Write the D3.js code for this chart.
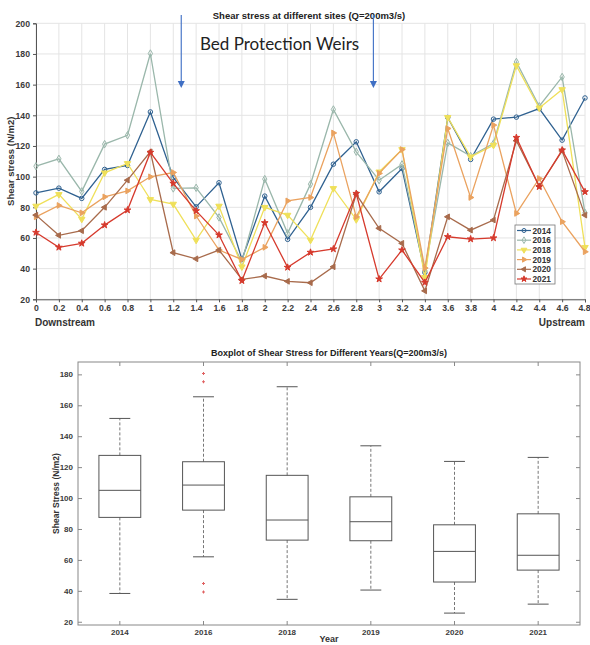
<!DOCTYPE html>
<html>
<head>
<meta charset="utf-8">
<script src="https://cdn.jsdelivr.net/npm/d3@7"></script>
<style>
  body { margin: 0; background: #fff; }
  svg { display: block; font-family: "Liberation Sans", Arial, sans-serif; }
  .tick-lbl { font-size: 8.7px; font-weight: bold; fill: #3a3a3a; }
  .tick-lbl-b { font-size: 8px; font-weight: bold; fill: #3a3a3a; }
</style>
</head>
<body>
<div id="plot"></div>
<script>
// ---- data ----
const sites = [0, 0.2, 0.4, 0.6, 0.8, 1, 1.2, 1.4, 1.6, 1.8, 2, 2.2, 2.4, 2.6, 2.8, 3, 3.2, 3.4, 3.6, 3.8, 4, 4.2, 4.4, 4.6, 4.8];
const years = ['2014', '2016', '2018', '2019', '2020', '2021'];

const s2014 = [89.4, 92.5, 85.8, 104.7, 107.3, 142.2, 99.5, 80.3, 96, 46, 87.3, 59.1, 80, 108.1, 122.7, 90.1, 105.3, 37.5, 138.6, 111.2, 137.5, 138.8, 144.4, 123.8, 151.3];
const s2016 = [106.8, 111.6, 90.4, 121.2, 127, 180.3, 92.3, 92.7, 73.4, 44.5, 98.4, 63, 95.1, 143.8, 116.2, 97.7, 108, 38.8, 122, 113.4, 121.6, 174.8, 145.9, 165, 76.4];
const s2018 = [80.8, 88.4, 72.3, 102.5, 108.6, 85.1, 82.1, 58.6, 80.8, 41.2, 80, 74.9, 58.6, 92.3, 72, 103.1, 117.7, 34.3, 138.6, 112.9, 120.5, 172.4, 144.8, 156.8, 53.9];
const s2019 = [73.8, 81.2, 76.4, 86.8, 90.7, 99.9, 102.7, 74.3, 52.1, 46, 53.9, 84.2, 86.4, 128.5, 73.8, 102.1, 117.7, 40.4, 131.4, 86.4, 133.6, 76, 98.8, 70.6, 51];
const s2020 = [74.9, 61.7, 64.7, 80, 97.7, 116.2, 50.4, 46.4, 52.1, 33, 35.2, 31.7, 30.8, 41.2, 88.5, 66.3, 56.5, 25.5, 73.8, 65.1, 71.7, 123.4, 93.8, 116.8, 74.9];
const s2021 = [63.6, 53.9, 56.5, 68.4, 78.2, 115.8, 95.6, 77.7, 61.9, 32.1, 69.9, 40.8, 50.6, 52.8, 89, 33.2, 52.1, 31, 60.8, 59.3, 60, 125.5, 93.4, 117.3, 90.1];

const xTicks = sites;
const yTicks = [20, 40, 60, 80, 100, 120, 140, 160, 180, 200];

// boxplot stats per year
const whiskerLow = [38.3, 62, 34.5, 40.5, 25.6, 31.4];
const q1 = [87.5, 92.2, 72.8, 72.4, 45.7, 53.4];
const median = [105, 108.4, 85.8, 84.7, 65.5, 63];
const q3 = [127.6, 123.5, 114.7, 100.8, 82.7, 89.8];
const whiskerHigh = [151.5, 165.5, 172, 133.8, 123.7, 126.3];
const outliers = [[], [180.5, 175.2, 44.8, 39.2], [], [], [], []];
const boxTicks = [20, 40, 60, 80, 100, 120, 140, 160, 180];

const series = [
  { name: '2014', values: s2014, color: '#2f6190', symbol: d3.symbolCircle, fill: 'none', size: 16 },
  { name: '2016', values: s2016, color: '#9ab7ab', symbol: d3.symbolDiamond, fill: 'none', size: 16 },
  { name: '2018', values: s2018, color: '#efe05a', symbol: d3.symbolTriangle, fill: '#efe05a', size: 18, rot: 180 },
  { name: '2019', values: s2019, color: '#eaa25f', symbol: d3.symbolTriangle, fill: '#eaa25f', size: 14, rot: 90 },
  { name: '2020', values: s2020, color: '#a86b4c', symbol: d3.symbolTriangle, fill: '#a86b4c', size: 14, rot: -90 },
  { name: '2021', values: s2021, color: '#d63a2d', symbol: d3.symbolStar, fill: '#d63a2d', size: 14 },
];

const width = 590;
const height = 645;

const svg = d3.select('#plot').append('svg')
  .attr('width', width)
  .attr('height', height);

// ================= top line chart =================
const x = d3.scaleLinear().domain([0, 4.8]).range([36, 585]);
const y = d3.scaleLinear().domain([20, 200]).range([299.3, 23.3]);

const lineG = svg.append('g');

// grid
lineG.append('g').selectAll('line')
  .data(xTicks)
  .join('line')
  .attr('x1', d => x(d)).attr('x2', d => x(d))
  .attr('y1', y(20)).attr('y2', y(200))
  .attr('stroke', '#e4e4e4').attr('stroke-width', 1);

lineG.append('g').selectAll('line')
  .data(yTicks)
  .join('line')
  .attr('x1', x(0)).attr('x2', x(4.8))
  .attr('y1', d => y(d)).attr('y2', d => y(d))
  .attr('stroke', '#e4e4e4').attr('stroke-width', 1);

// axes
const xAxis = d3.axisBottom(x).tickValues(xTicks).tickFormat(d3.format('~g')).tickSize(3).tickPadding(3);
const yAxis = d3.axisLeft(y).tickValues(yTicks).tickSize(3).tickPadding(3);

lineG.append('g')
  .attr('transform', `translate(0,${y(20)})`)
  .call(xAxis)
  .call(g => g.select('.domain').attr('stroke', '#555'))
  .call(g => g.selectAll('.tick line').attr('stroke', '#555'))
  .call(g => g.selectAll('text').attr('class', 'tick-lbl'))
  // last label sits at the very edge of the page
  .call(g => g.selectAll('.tick:last-of-type text').attr('text-anchor', 'end').attr('x', 5));

lineG.append('g')
  .attr('transform', `translate(${x(0)},0)`)
  .call(yAxis)
  .call(g => g.select('.domain').attr('stroke', '#555'))
  .call(g => g.selectAll('.tick line').attr('stroke', '#555'))
  .call(g => g.selectAll('text').attr('class', 'tick-lbl'));

lineG.selectAll('g').attr('font-family', null).attr('font-size', null);

// lines and markers
const line = d3.line()
  .x((d, i) => x(sites[i]))
  .y(d => y(d));

series.forEach(s => {
  lineG.append('path')
    .datum(s.values)
    .attr('d', line)
    .attr('fill', 'none')
    .attr('stroke', s.color)
    .attr('stroke-width', 1.3);

  lineG.append('g').selectAll('path')
    .data(s.values)
    .join('path')
    .attr('d', d3.symbol(s.symbol, s.size))
    .attr('transform', (d, i) => `translate(${x(sites[i])},${y(d)}) rotate(${s.rot || 0})`)
    .attr('fill', s.fill)
    .attr('stroke', s.color)
    .attr('stroke-width', 1);
});

// titles and labels
lineG.append('text')
  .attr('x', 309).attr('y', 19)
  .attr('text-anchor', 'middle')
  .attr('font-size', 9.5).attr('font-weight', 'bold').attr('fill', '#222')
  .text('Shear stress at different sites (Q=200m3/s)');

lineG.append('text')
  .attr('transform', `translate(14,${(y(20) + y(200)) / 2}) rotate(-90)`)
  .attr('text-anchor', 'middle')
  .attr('font-size', 9.5).attr('font-weight', 'bold').attr('fill', '#333')
  .text('Shear stress (N/m2)');

lineG.append('text')
  .attr('x', 35).attr('y', 326)
  .attr('font-size', 10).attr('font-weight', 'bold').attr('fill', '#333')
  .text('Downstream');

lineG.append('text')
  .attr('x', 585).attr('y', 326)
  .attr('text-anchor', 'end')
  .attr('font-size', 10).attr('font-weight', 'bold').attr('fill', '#333')
  .text('Upstream');

lineG.append('text')
  .attr('x', 200).attr('y', 50)
  .attr('font-family', 'Lato, "Open Sans", sans-serif')
  .attr('font-size', 17).attr('fill', '#222')
  .text('Bed Protection Weirs');

// weir arrows
[1.27, 2.95].forEach(d => {
  lineG.append('line')
    .attr('x1', x(d)).attr('x2', x(d))
    .attr('y1', 15).attr('y2', 82)
    .attr('stroke', '#4a78c8').attr('stroke-width', 1.2);
  lineG.append('path')
    .attr('d', `M${x(d) - 3.5},${81} L${x(d) + 3.5},${81} L${x(d)},${88} Z`)
    .attr('fill', '#3f6fc4');
});

// legend
const legend = lineG.append('g').attr('transform', 'translate(515,225)');
legend.append('rect')
  .attr('width', 40).attr('height', 59)
  .attr('fill', '#fff').attr('stroke', '#777').attr('stroke-width', 0.8);

series.forEach((s, i) => {
  const row = legend.append('g').attr('transform', `translate(0,${5.5 + i * 9.7})`);
  row.append('line')
    .attr('x1', 2).attr('x2', 16)
    .attr('stroke', s.color).attr('stroke-width', 1.2);
  row.append('path')
    .attr('d', d3.symbol(s.symbol, s.size * 0.8))
    .attr('transform', `translate(9,0) rotate(${s.rot || 0})`)
    .attr('fill', s.fill).attr('stroke', s.color).attr('stroke-width', 1);
  row.append('text')
    .attr('x', 17.5).attr('y', 3)
    .attr('font-size', 8.3).attr('font-weight', 'bold').attr('fill', '#333')
    .text(s.name);
});

// ================= bottom boxplot =================
const bx = d3.scaleBand().domain(years).range([78, 580]);
const by = d3.scaleLinear().domain([17.9, 188]).range([625, 362]);

const boxG = svg.append('g');

boxG.append('rect')
  .attr('x', 78).attr('y', 362)
  .attr('width', 502).attr('height', 263)
  .attr('fill', 'none').attr('stroke', '#888').attr('stroke-width', 1);

boxG.append('g')
  .attr('transform', 'translate(78,0)')
  .call(d3.axisLeft(by).tickValues(boxTicks).tickSize(-4).tickPadding(5))
  .call(g => g.select('.domain').remove())
  .call(g => g.selectAll('.tick line').attr('stroke', '#888'))
  .call(g => g.selectAll('text').attr('class', 'tick-lbl-b'));

boxG.append('g')
  .attr('transform', 'translate(580,0)')
  .call(d3.axisRight(by).tickValues(boxTicks).tickSize(-4).tickFormat(''))
  .call(g => g.select('.domain').remove())
  .call(g => g.selectAll('.tick line').attr('stroke', '#888'));

boxG.append('g')
  .attr('transform', 'translate(0,625)')
  .call(d3.axisBottom(bx).tickSize(-4).tickPadding(4))
  .call(g => g.select('.domain').remove())
  .call(g => g.selectAll('.tick line').attr('stroke', '#888'))
  .call(g => g.selectAll('text').attr('class', 'tick-lbl-b'));

boxG.append('g')
  .attr('transform', 'translate(0,362)')
  .call(d3.axisTop(bx).tickSize(-4).tickFormat(''))
  .call(g => g.select('.domain').remove())
  .call(g => g.selectAll('.tick line').attr('stroke', '#888'));

boxG.selectAll('g').attr('font-family', null).attr('font-size', null);

const boxW = bx.bandwidth() * 0.5;
const capW = bx.bandwidth() * 0.25;

years.forEach((yr, i) => {
  const cx = bx(yr) + bx.bandwidth() / 2;
  const g = boxG.append('g');
  // whiskers
  g.append('line')
    .attr('x1', cx).attr('x2', cx)
    .attr('y1', by(q3[i])).attr('y2', by(whiskerHigh[i]))
    .attr('stroke', '#777').attr('stroke-dasharray', '3,2');
  g.append('line')
    .attr('x1', cx).attr('x2', cx)
    .attr('y1', by(q1[i])).attr('y2', by(whiskerLow[i]))
    .attr('stroke', '#777').attr('stroke-dasharray', '3,2');
  [whiskerHigh[i], whiskerLow[i]].forEach(v => {
    g.append('line')
      .attr('x1', cx - capW / 2).attr('x2', cx + capW / 2)
      .attr('y1', by(v)).attr('y2', by(v))
      .attr('stroke', '#555');
  });
  g.append('rect')
    .attr('x', cx - boxW / 2).attr('width', boxW)
    .attr('y', by(q3[i])).attr('height', by(q1[i]) - by(q3[i]))
    .attr('fill', 'none').attr('stroke', '#555').attr('stroke-width', 1);
  g.append('line')
    .attr('x1', cx - boxW / 2).attr('x2', cx + boxW / 2)
    .attr('y1', by(median[i])).attr('y2', by(median[i]))
    .attr('stroke', '#555');
  g.selectAll('path.out')
    .data(outliers[i])
    .join('path')
    .attr('d', d3.symbol(d3.symbolCross, 5))
    .attr('transform', d => `translate(${cx},${by(d)})`)
    .attr('fill', '#e06060');
});

boxG.append('text')
  .attr('x', 329).attr('y', 356)
  .attr('text-anchor', 'middle')
  .attr('font-size', 9).attr('font-weight', 'bold').attr('fill', '#222')
  .text('Boxplot of Shear Stress for Different Years(Q=200m3/s)');

boxG.append('text')
  .attr('transform', `translate(59,${(362 + 625) / 2}) rotate(-90)`)
  .attr('text-anchor', 'middle')
  .attr('font-size', 8.5).attr('font-weight', 'bold').attr('fill', '#333')
  .text('Shear Stress (N/m2)');

boxG.append('text')
  .attr('x', 329).attr('y', 642)
  .attr('text-anchor', 'middle')
  .attr('font-size', 9).attr('font-weight', 'bold').attr('fill', '#333')
  .text('Year');
</script>
</body>
</html>
